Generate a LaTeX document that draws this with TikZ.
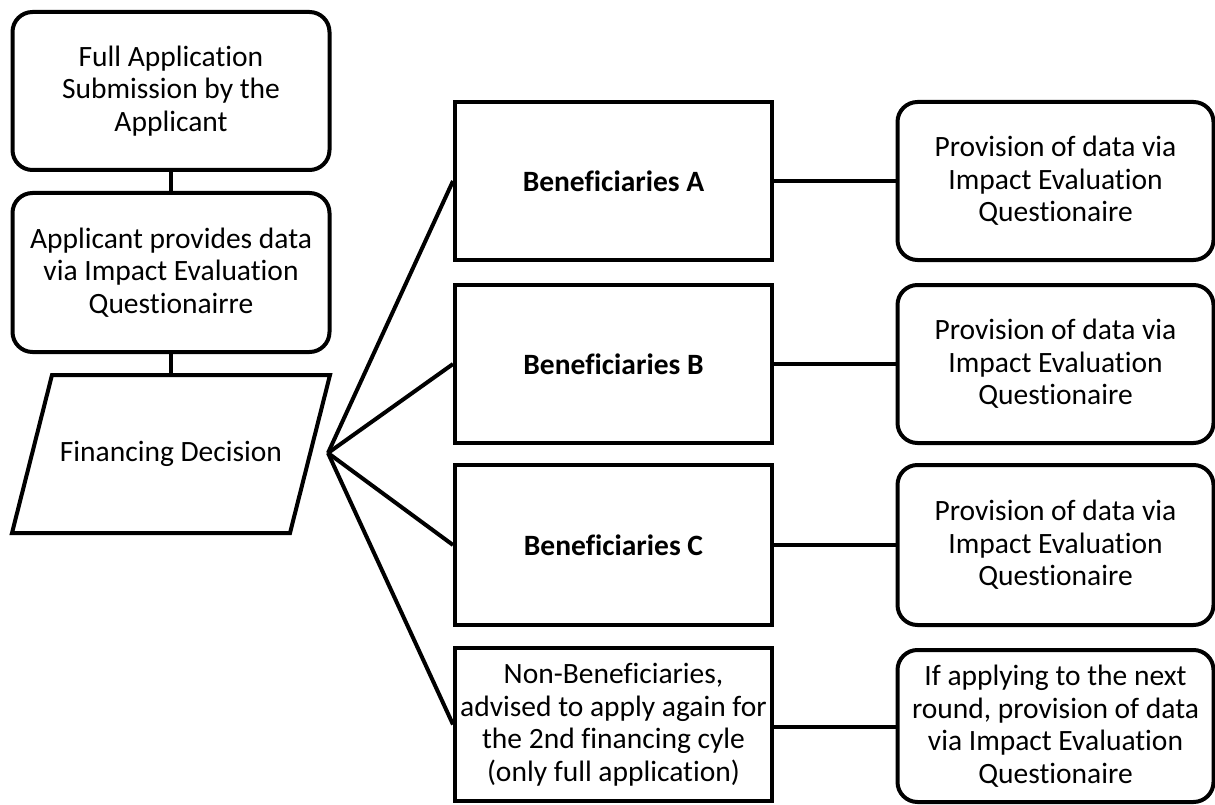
\documentclass[tikz,border=0pt]{standalone}
\usepackage{fontspec}
\setmainfont{Carlito}[Ligatures=NoCommon]
\begin{document}
\begin{tikzpicture}[x=1pt,y=-1pt,
  every node/.style={font=\fontsize{29.5}{32.5}\selectfont, align=center, inner sep=0pt},
  lw/.style={line width=4pt},
  rbox/.style={draw, lw, rounded corners=20pt, minimum width=316pt},
  sbox/.style={draw, lw, minimum width=317pt},
  bold/.style={font=\fontsize{29.5}{32.5}\selectfont\bfseries},
  link/.style={lw}
]
\useasboundingbox (0,0) rectangle (1215,805);
% left column
\node[rbox, minimum width=317pt, minimum height=158pt] (sub) at (171,91) {Full Application\\Submission by the\\Applicant};
\node[rbox, minimum width=317pt, minimum height=159pt] (iq) at (171,272.5) {Applicant provides data\\via Impact Evaluation\\Questionairre};
\node (fd) at (171,454) {Financing Decision};
\draw[lw, line join=miter] (52,375) -- (330,375) -- (290,533) -- (12,533) -- cycle;
\coordinate (hub) at (328,453);
\coordinate (fdtop) at (171,375);
\draw[link] (sub.south) -- (iq.north);
\draw[link] (iq.south) -- (fdtop);
% middle column
\node[sbox, minimum height=158pt, bold] (ba) at (613.5,181) {Beneficiaries A};
\node[sbox, minimum height=158pt, bold] (bb) at (613.5,364) {Beneficiaries B};
\node[sbox, minimum height=160pt, bold] (bc) at (613.5,545) {Beneficiaries C};
\node[sbox, minimum height=153pt] (nb) at (613.5,724.5) {Non-Beneficiaries,\\advised to apply again for\\the 2nd financing cyle\\(only full application)};
% right column
\node[rbox, minimum height=158pt] (pa) at (1055.5,181) {Provision of data via\\Impact Evaluation\\Questionaire};
\node[rbox, minimum height=158pt] (pb) at (1055.5,364) {Provision of data via\\Impact Evaluation\\Questionaire};
\node[rbox, minimum height=160pt] (pc) at (1055.5,545) {Provision of data via\\Impact Evaluation\\Questionaire};
\node[rbox, minimum height=152pt] (pn) at (1055.5,726) {If applying to the next\\round, provision of data\\via Impact Evaluation\\Questionaire};
% connectors
\draw[link] (hub) -- (ba.west);
\draw[link] (hub) -- (bb.west);
\draw[link] (hub) -- (bc.west);
\draw[link] (hub) -- (nb.west);
\draw[link] (ba.east) -- (pa.west);
\draw[link] (bb.east) -- (pb.west);
\draw[link] (bc.east) -- (pc.west);
\draw[link] (nb.east |- 0,727) -- (pn.west |- 0,727);
\end{tikzpicture}
\end{document}
